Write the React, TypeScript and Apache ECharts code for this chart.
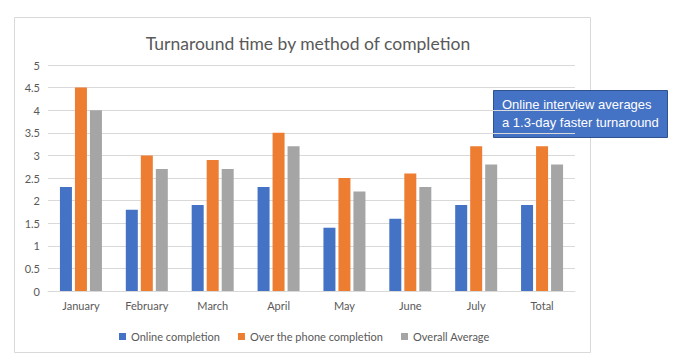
import React, { useEffect, useRef } from "react";
import * as echarts from "echarts";

const categories = ["January", "February", "March", "April", "May", "June", "July", "Total"];
const onlineCompletion = [2.3, 1.8, 1.9, 2.3, 1.4, 1.6, 1.9, 1.9];
const phoneCompletion = [4.5, 3.0, 2.9, 3.5, 2.5, 2.6, 3.2, 3.2];
const overallAverage = [4.0, 2.7, 2.7, 3.2, 2.2, 2.3, 2.8, 2.8];
const seriesNames = ["Online completion", "Over the phone completion", "Overall Average"];
const titleText = "Turnaround time by method of completion";
const calloutLines = ["Online interview averages", "a 1.3-day faster turnaround"];

export default function App() {
  const ref = useRef<HTMLDivElement>(null);
  useEffect(() => {
    document.body.style.margin = "0";
    const chart = echarts.init(ref.current!, null, { renderer: "svg" });
    const textColor = "#595959";
    const font = "Lato, 'Noto Sans', sans-serif";
    chart.setOption({
      animation: false,
      backgroundColor: "#ffffff",
      title: {
        text: titleText,
        left: 303,
        textAlign: "center",
        top: 29,
        textStyle: { fontSize: 17.5, fontWeight: "normal", color: textColor, fontFamily: font },
      },
      legend: {
        left: 114,
        top: 326,
        itemWidth: 7,
        itemHeight: 7,
        itemGap: 18,
        icon: "rect",
        textStyle: { fontSize: 11, color: textColor, fontFamily: font },
        data: seriesNames,
      },
      grid: { left: 48, right: 109, top: 65, bottom: 72, containLabel: false },
      xAxis: {
        type: "category",
        data: categories,
        axisLine: { lineStyle: { color: "#d9d9d9" } },
        axisTick: { show: false },
        axisLabel: { fontSize: 11, color: textColor, fontFamily: font, margin: 9 },
      },
      yAxis: {
        type: "value",
        min: 0,
        max: 5,
        interval: 0.5,
        axisLine: { show: false },
        axisTick: { show: false },
        splitLine: { lineStyle: { color: "#d9d9d9" } },
        axisLabel: { fontSize: 11, color: textColor, fontFamily: font, margin: 8 },
      },
      series: [
        { name: seriesNames[0], type: "bar", data: onlineCompletion, barWidth: 12, barGap: "25%", itemStyle: { color: "#4472C4" } },
        { name: seriesNames[1], type: "bar", data: phoneCompletion, barWidth: 12, barGap: "25%", itemStyle: { color: "#ED7D31" } },
        { name: seriesNames[2], type: "bar", data: overallAverage, barWidth: 12, barGap: "25%", itemStyle: { color: "#A5A5A5" } },
      ],
      graphic: [
        {
          type: "rect",
          z: -1,
          silent: true,
          shape: { x: 14.5, y: 17.5, width: 576, height: 335 },
          style: { fill: "none", stroke: "#d9d9d9", lineWidth: 1 },
        },
        {
          type: "group",
          z: 100,
          children: [
            {
              type: "rect",
              shape: { x: 493.5, y: 90.5, width: 174, height: 47 },
              style: { fill: "#4472C4", stroke: "#2F528F", lineWidth: 1 },
            },
            {
              type: "text",
              x: 502,
              y: 95,
              style: {
                text: calloutLines.join("\n"),
                fill: "#ffffff",
                fontSize: 13,
                lineHeight: 18,
                fontFamily: "'Liberation Sans', Arial, sans-serif",
              },
            },
          ],
        },
      ],
    });
    return () => chart.dispose();
  }, []);
  return <div ref={ref} style={{ width: 684, height: 363 }} />;
}
